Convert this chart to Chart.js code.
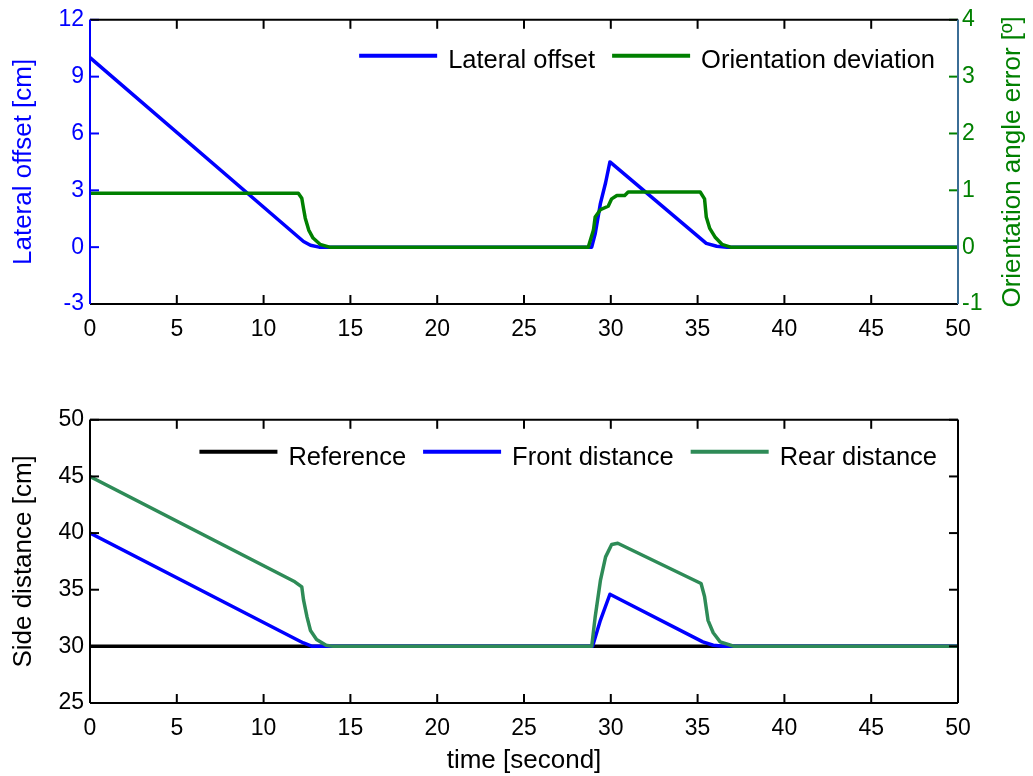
<!DOCTYPE html>
<html>
<head>
<meta charset="utf-8">
<title>Lateral offset / side distance</title>
<script src="https://cdn.jsdelivr.net/npm/chart.js@4.4.0/dist/chart.umd.min.js"></script>
<style>
  html, body { margin: 0; padding: 0; background: #fff; }
  #wrap { position: relative; width: 1033px; height: 776px; }
  #topBox { position: absolute; left: 0; top: 0; width: 1033px; height: 400px; }
  #bottomBox { position: absolute; left: 0; top: 400px; width: 1033px; height: 376px; }
</style>
</head>
<body>
<div id="wrap">
  <div id="topBox"><canvas id="topChart"></canvas></div>
  <div id="bottomBox"><canvas id="bottomChart"></canvas></div>
</div>
<script>
// --- data ---
const lateralTime   = [0, 12.3, 12.7, 13.2, 28.9, 29.1, 29.4, 29.7, 29.95, 35.5, 36.1, 36.7, 50];
const lateralOffset = [10, 0.3, 0.1, 0, 0, 0.7, 2.3, 3.4, 4.5, 0.2, 0.05, 0, 0];

const orientTime  = [0, 12.0, 12.2, 12.3, 12.4, 12.6, 12.85, 13.25, 13.8, 28.7, 29.0, 29.1, 29.4, 29.85, 30.05, 30.35, 30.8, 31.0, 35.15, 35.4, 35.5, 35.7, 36.0, 36.4, 36.9, 50];
const orientError = [0.95, 0.95, 0.86, 0.68, 0.51, 0.3, 0.16, 0.05, 0, 0, 0.3, 0.53, 0.66, 0.72, 0.85, 0.91, 0.91, 0.97, 0.97, 0.85, 0.53, 0.33, 0.18, 0.05, 0, 0];

const referenceTime = [0, 50];
const referenceDist = [30, 30];

const frontTime = [0, 11.9, 12.3, 12.8, 28.95, 29.4, 29.95, 35.3, 35.9, 36.5, 50];
const frontDist = [40, 30.6, 30.3, 30, 30, 32.3, 34.6, 30.4, 30.1, 30, 30];

const rearTime = [0, 11.8, 12.2, 12.3, 12.5, 12.7, 13.05, 13.6, 14.0, 28.9, 29.1, 29.4, 29.7, 30.05, 30.4, 35.2, 35.4, 35.6, 35.9, 36.3, 36.9, 37.1, 50];
const rearDist = [45, 35.7, 35.25, 34.1, 32.6, 31.4, 30.6, 30.1, 30, 30, 32.6, 35.8, 37.9, 39.0, 39.1, 35.55, 34.4, 32.3, 31.2, 30.4, 30.1, 30, 30];

const timeRange = [0, 50];
const lateralRange = [-3, 12];
const orientRange = [-1, 4];
const sideRange = [25, 50];

const FONT = '"Liberation Sans", Arial, Helvetica, sans-serif';
const BLUE = '#0000ff';
const GREEN = '#008000';
const SEA = '#2e8b57';
const RIGHT_AXIS = '#3b6e96';

Chart.defaults.font.family = FONT;
Chart.defaults.animation = false;

function toPoints(xs, ys) {
  return xs.map((x, i) => ({ x: x, y: ys[i] }));
}

// inward tick marks and the box around the plot
const frameTicks = {
  id: 'frameTicks',
  afterDatasetsDraw(chart, args, opts) {
    const { ctx, chartArea: a, scales } = chart;
    const len = 9;
    const seg = (x1, y1, x2, y2, c) => {
      ctx.strokeStyle = c;
      ctx.beginPath(); ctx.moveTo(x1, y1); ctx.lineTo(x2, y2); ctx.stroke();
    };
    ctx.save();
    ctx.lineWidth = 2;
    scales.x.ticks.forEach(t => {
      const px = scales.x.getPixelForValue(t.value);
      seg(px, a.bottom, px, a.bottom - len, '#000');
      seg(px, a.top, px, a.top + len, '#000');
    });
    const yl = scales.y;
    yl.ticks.forEach(t => {
      const py = yl.getPixelForValue(t.value);
      seg(a.left, py, a.left + len, py, opts.leftColor);
      if (!scales.y1) seg(a.right, py, a.right - len, py, '#000');
    });
    if (scales.y1) {
      scales.y1.ticks.forEach(t => {
        const py = scales.y1.getPixelForValue(t.value);
        seg(a.right, py, a.right - len, py, GREEN);
      });
    }
    seg(a.left, a.top, a.right, a.top, '#000');
    seg(a.left, a.bottom, a.right, a.bottom, '#000');
    seg(a.left, a.top, a.left, a.bottom, opts.leftColor);
    seg(a.right, a.top, a.right, a.bottom, opts.rightColor);

    // right axis title reads bottom to top like the left one
    if (opts.rightTitle) {
      ctx.fillStyle = GREEN;
      ctx.font = '26px ' + FONT;
      ctx.textAlign = 'center';
      ctx.textBaseline = 'middle';
      ctx.translate(opts.rightTitleX, (a.top + a.bottom) / 2);
      ctx.rotate(-Math.PI / 2);
      ctx.fillText(opts.rightTitle, 0, 0);
    }
    ctx.restore();
  }
};

// legend drawn inside the plot, top right, with line samples
const lineLegend = {
  id: 'lineLegend',
  afterDraw(chart, args, opts) {
    const { ctx, chartArea: a } = chart;
    const sets = chart.data.datasets;
    ctx.save();
    ctx.font = '25.5px ' + FONT;
    ctx.textBaseline = 'alphabetic';
    ctx.textAlign = 'left';
    let x = a.right - opts.right;
    for (let i = sets.length - 1; i >= 0; i--) {
      const w = ctx.measureText(sets[i].label).width;
      ctx.fillStyle = '#000';
      ctx.fillText(sets[i].label, x - w, a.top + opts.baseline);
      x -= w + 11;
      ctx.strokeStyle = sets[i].borderColor;
      ctx.lineWidth = 4;
      ctx.beginPath();
      ctx.moveTo(x - 78, a.top + opts.lineY);
      ctx.lineTo(x, a.top + opts.lineY);
      ctx.stroke();
      x -= 78 + 17;
    }
    ctx.restore();
  }
};

function lineSet(label, xs, ys, color, order, axis) {
  return {
    label: label,
    data: toPoints(xs, ys),
    borderColor: color,
    backgroundColor: color,
    borderWidth: 3.5,
    pointRadius: 0,
    tension: 0,
    borderJoinStyle: 'round',
    borderCapStyle: 'round',
    order: order,
    yAxisID: axis || 'y'
  };
}

function xScale(height, withTitle) {
  return {
    type: 'linear',
    min: timeRange[0], max: timeRange[1],
    ticks: { stepSize: 5, color: '#000', font: { size: 23 }, padding: 12 },
    grid: { display: false, drawTicks: false },
    border: { display: false },
    title: withTitle ? { display: true, text: 'time [second]', color: '#000', font: { size: 26 }, padding: { top: 0, bottom: 0 } } : { display: false },
    afterFit: s => { s.height = height; }
  };
}

new Chart(document.getElementById('topChart').getContext('2d'), {
  type: 'line',
  data: {
    datasets: [
      lineSet('Lateral offset', lateralTime, lateralOffset, BLUE, 1, 'y'),
      lineSet('Orientation deviation', orientTime, orientError, GREEN, 0, 'y1')
    ]
  },
  options: {
    responsive: true,
    maintainAspectRatio: false,
    layout: { padding: { top: 19, left: 0, right: 0, bottom: 0 }, autoPadding: false },
    scales: {
      x: xScale(96, false),
      y: {
        position: 'left',
        min: lateralRange[0], max: lateralRange[1],
        ticks: { stepSize: 3, color: BLUE, font: { size: 23 }, padding: 6 },
        grid: { display: false, drawTicks: false },
        border: { display: false },
        title: { display: true, text: 'Lateral offset [cm]', color: BLUE, font: { size: 26 }, padding: { top: 8, bottom: 0 } },
        afterFit: s => { s.width = 90; }
      },
      y1: {
        position: 'right',
        min: orientRange[0], max: orientRange[1],
        ticks: { stepSize: 1, color: GREEN, font: { size: 23 }, padding: 4 },
        grid: { display: false, drawTicks: false },
        border: { display: false },
        afterFit: s => { s.width = 75; }
      }
    },
    plugins: {
      legend: { display: false },
      tooltip: { enabled: false },
      frameTicks: { leftColor: BLUE, rightColor: RIGHT_AXIS, rightTitle: 'Orientation angle error [º]', rightTitleX: 1013 },
      lineLegend: { right: 23, baseline: 48, lineY: 36 }
    }
  },
  plugins: [frameTicks, lineLegend]
});

new Chart(document.getElementById('bottomChart').getContext('2d'), {
  type: 'line',
  data: {
    datasets: [
      lineSet('Reference', referenceTime, referenceDist, '#000', 2),
      lineSet('Front distance', frontTime, frontDist, BLUE, 1),
      lineSet('Rear distance', rearTime, rearDist, SEA, 0)
    ]
  },
  options: {
    responsive: true,
    maintainAspectRatio: false,
    layout: { padding: { top: 19, left: 0, right: 75, bottom: 0 }, autoPadding: false },
    scales: {
      x: xScale(73, true),
      y: {
        position: 'left',
        min: sideRange[0], max: sideRange[1],
        ticks: { stepSize: 5, color: '#000', font: { size: 23 }, padding: 6 },
        grid: { display: false, drawTicks: false },
        border: { display: false },
        title: { display: true, text: 'Side distance [cm]', color: '#000', font: { size: 26 }, padding: { top: 8, bottom: 0 } },
        afterFit: s => { s.width = 90; }
      }
    },
    plugins: {
      legend: { display: false },
      tooltip: { enabled: false },
      frameTicks: { leftColor: '#000', rightColor: '#000' },
      lineLegend: { right: 21, baseline: 45, lineY: 32 }
    }
  },
  plugins: [frameTicks, lineLegend]
});
</script>
</body>
</html>
